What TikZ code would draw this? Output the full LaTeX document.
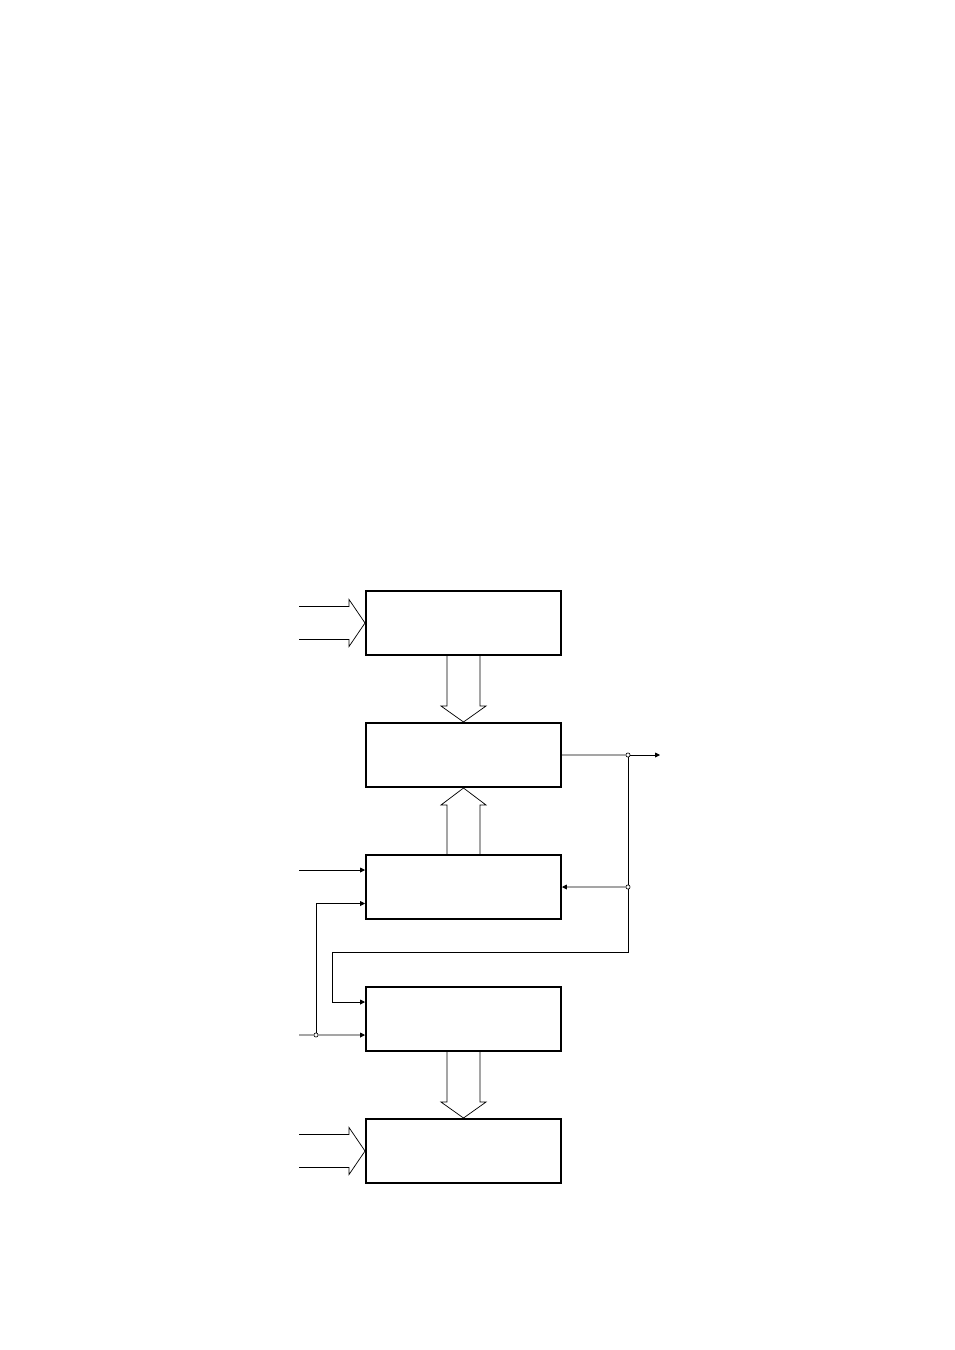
\documentclass[tikz,border=0pt]{standalone}
\usepackage{tikz}
\usetikzlibrary{arrows.meta, calc}
\tikzstyle{block} = [rectangle, minimum width=121.8pt, minimum height=40.1pt, draw=black, line width=1.1pt]
\tikzstyle{fat} = [line width=0.45pt]
\tikzstyle{wire} = [line width=0.45pt]
\tikzstyle{arrow} = [wire, -{Triangle[length=3pt,width=3pt]}]
\tikzstyle{dot} = [circle, draw=black, fill=white, line width=0.4pt, inner sep=0pt, minimum size=2.6pt]

\begin{document}
\begin{tikzpicture}[x=0.624pt, y=-0.624pt, node distance=82.37pt]
\useasboundingbox (0,0) rectangle (954,1350);

\node (box1) [block] at (463.5,623) {};
\node (box2) [block, below of=box1] {};
\node (box3) [block, below of=box2] {};
\node (box4) [block, below of=box3] {};
\node (box5) [block, below of=box4] {};

% wide arrows
\foreach \b in {box1, box5}
	\draw [fat] ($(\b.west)+(-66,-16.5)$) -- ++(50,0) -- ++(0,-7) -- (\b.west) -- ($(\b.west)+(-16,23.5)$) -- ++(0,-7) -- ++(-50,0);
\foreach \a/\b in {box1/box2, box4/box5}
	\draw [fat] ($(\a.south)+(-16.5,0)$) -- ++(0,50) -- ++(-6,0) -- (\b.north) -- ($(\a.south)+(22.5,50)$) -- ++(-6,0) -- ++(0,-50);
\draw [fat] ($(box3.north)+(-16.5,0)$) -- ++(0,-49) -- ++(-6,0) -- (box2.south) -- ($(box3.north)+(22.5,-49)$) -- ++(-6,0) -- ++(0,49);

\node (j1) [dot] at (628,755) {};
\node (j2) [dot] at (628,887) {};
\node (j3) [dot] at (316,1035) {};
\coordinate (out) at (660,755);

\draw [wire] (box2.east) -- (j1);
\draw [arrow] (j1) -- (out);
\draw [wire] (j1) -- (j2);
\draw [arrow] (j2) -- (box3.east);
\draw [arrow] (j2) -- ++(0,65) -| ($(box4.west)+(-33,-17)$) -- ($(box4.west)+(0,-17)$);

\draw [arrow] ($(box3.west)+(-66,-17)$) -- ($(box3.west)+(0,-17)$);
\draw [arrow] (j3) |- ($(box3.west)+(0,16.5)$);
\draw [wire] ($(box4.west)+(-66,16)$) -- (j3);
\draw [arrow] (j3) -- ($(box4.west)+(0,16)$);

\end{tikzpicture}
\end{document}
